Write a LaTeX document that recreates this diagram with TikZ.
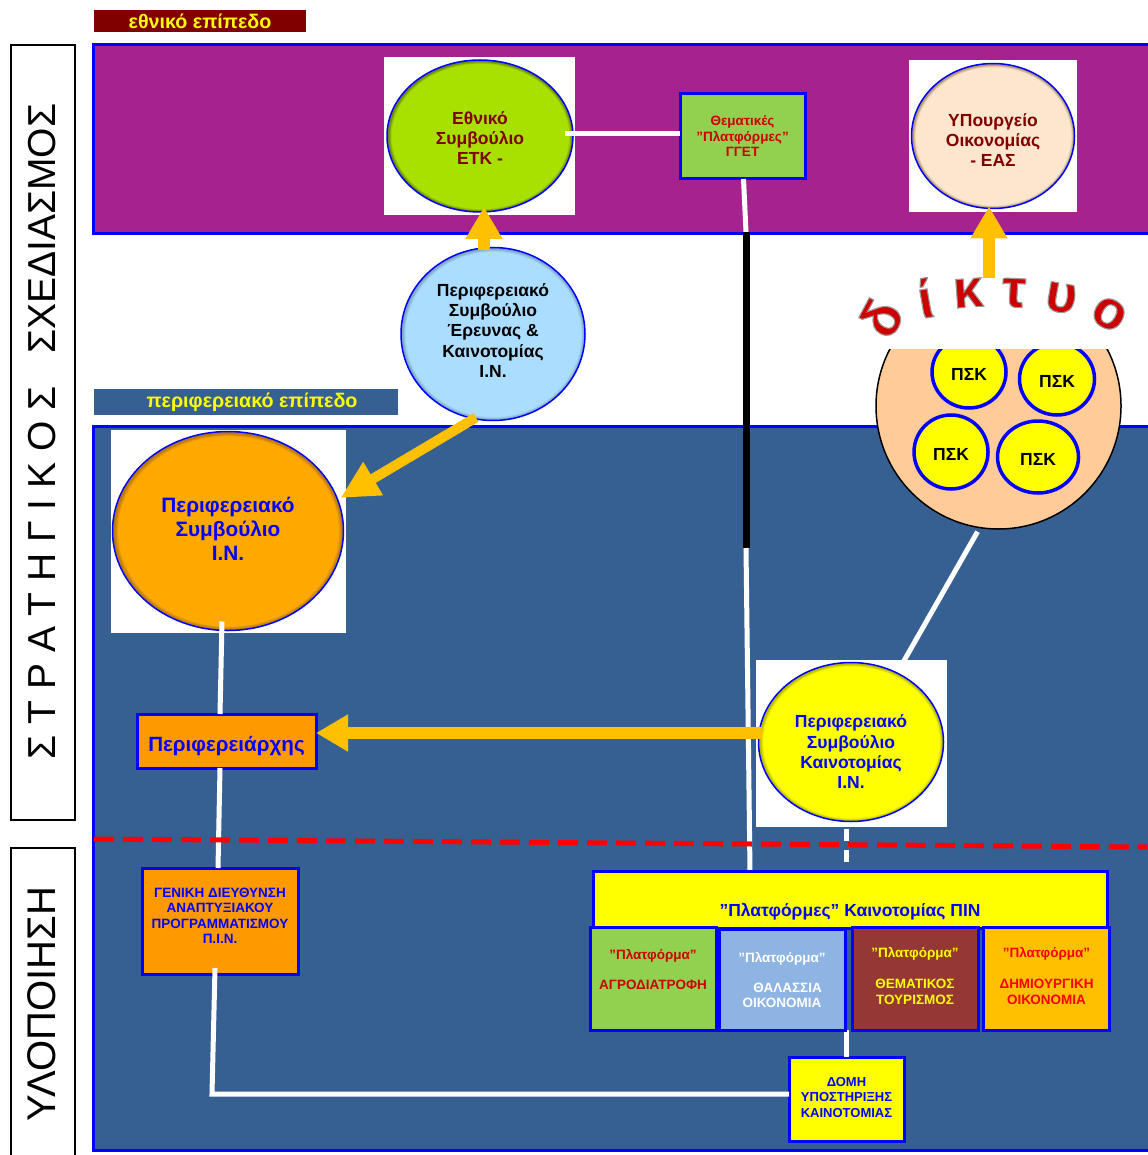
\documentclass[tikz,border=0pt]{standalone}
\usepackage{fontspec}
\setmainfont{Liberation Sans}
\usetikzlibrary{shapes.geometric,arrows.meta}

\definecolor{natpurple}{HTML}{A6228F}
\definecolor{regblue}{HTML}{376092}
\definecolor{labelred}{HTML}{800000}
\definecolor{tipamber}{HTML}{FFC000}
\definecolor{etkgreen}{HTML}{A8E000}
\definecolor{etkdark}{HTML}{6F8A10}
\definecolor{easpeach}{HTML}{FDE6CE}
\definecolor{easdark}{HTML}{B89A70}
\definecolor{erevblue}{HTML}{AADDFF}
\definecolor{erevdark}{HTML}{7FA8C8}
\definecolor{psnorange}{HTML}{FFA800}
\definecolor{psndark}{HTML}{B87A10}
\definecolor{pskyellow}{HTML}{FFFF00}
\definecolor{pskdark}{HTML}{B8B800}
\definecolor{leafgreen}{HTML}{92D050}
\definecolor{seablue}{HTML}{8EB4E3}
\definecolor{wine}{HTML}{953735}
\definecolor{boxorange}{HTML}{FF9900}
\definecolor{bigpeach}{HTML}{FFCC99}

\newcommand{\ballshading}[3]{\pgfdeclareradialshading{#1}{\pgfpointorigin}{color(0bp)=(#2); color(23.8bp)=(#2); color(24.6bp)=(#3); color(25bp)=(#3); color(50bp)=(#3)}}
\ballshading{etkball}{etkgreen}{etkdark}
\ballshading{easball}{easpeach}{easdark}
\ballshading{erevball}{erevblue}{erevdark}
\ballshading{psnball}{psnorange}{psndark}
\ballshading{pskball}{pskyellow}{pskdark}

\newcommand{\qt}{\symbol{34}}
\newcommand{\netletter}[1]{\special{pdf:code 0.62 0.6 0.6 RG 1.1 w 2 Tr}#1\special{pdf:code 0 Tr}}

\begin{document}
\begin{tikzpicture}
      [x=1pt, y=-1pt,
       ball/.style={
           ellipse,
           draw=blue, line width=1.5pt,
           shade,
           inner sep=0pt, outer sep=0pt,
           align=center,
           font=\bfseries\fontsize{17.5}{20.3}\selectfont
         },
       pbox/.style={
           rectangle,
           draw=blue, line width=3pt,
           inner sep=0pt, outer sep=0pt,
           align=center,
           font=\bfseries\fontsize{13.5}{15.5}\selectfont
         },
       psk/.style={
           ellipse,
           draw=blue, line width=3.5pt, fill=pskyellow,
           inner sep=0pt, outer sep=0pt,
           font=\bfseries\fontsize{17.5}{19}\selectfont
         },
       level/.style={
           rectangle,
           inner sep=0pt,
           font=\bfseries\fontsize{19.7}{22}\selectfont
         },
       side/.style={
           rectangle,
           draw=black, line width=1.2pt, fill=white,
           inner sep=0pt, outer sep=0pt,
           minimum width=64pt
         },
       wire/.style={draw=white, line width=5pt},
       tip/.style={draw=tipamber, line width=12pt, -{Triangle[length=32pt,width=35pt]}},
       letter/.style={
           text=red!80!black,
           inner sep=0pt,
           font=\bfseries\fontsize{54}{54}\selectfont
         },
       ]
    \useasboundingbox (0,0) rectangle (1147,1155);

    % bands
    \path [fill=natpurple, draw=blue, line width=3pt] (93,45) rectangle (1155,234);
    \path [fill=regblue, draw=blue, line width=3pt] (93,426) rectangle (1155,1150);

    \node [level, fill=labelred, text=pskyellow, minimum width=212pt, minimum height=22pt] (natlabel) at (200,21) {εθνικό επίπεδο};
    \node [level, fill=regblue, text=pskyellow, minimum width=304pt, minimum height=26pt] (reglabel) at (246,402) {\hspace{12pt}περιφερειακό επίπεδο};

    \node [side, minimum height=775pt] (strategy) at (43,432.5) {};
    \node [side, minimum height=320pt] (impl) at (43,1008) {};
    \node [rotate=90, font=\fontsize{39}{39}\selectfont] (strategytext) at (42,431.5) {Σ Τ Ρ Α Τ Η Γ Ι Κ Ο Σ\ \ \ ΣΧΕΔΙΑΣΜΟΣ};
    \node [rotate=90, font=\fontsize{40}{40}\selectfont] (impltext) at (42,1004) {ΥΛΟΠΟΙΗΣΗ};

    % white squares behind the pictures
    \fill [white] (384,57) rectangle (575,215);
    \fill [white] (909,60) rectangle (1077,212);
    \fill [white] (111,430) rectangle (346,633);
    \fill [white] (756,660) rectangle (947,827);

    % nodes
    \node [ball, shading=etkball, text=labelred, minimum width=186pt, minimum height=152pt] (etk) at (480,136) {\rule{0pt}{17pt}Εθνικό\\Συμβούλιο\\ΕΤΚ -};
    \node [ball, shading=easball, text=labelred, minimum width=163pt, minimum height=145pt] (eas) at (993,136) {\rule{0pt}{20.8pt}ΥΠουργείο\\Οικονομίας\\- ΕΑΣ};
    \node [ball, shading=erevball, text=black, minimum width=184pt, minimum height=173pt] (rerev) at (493,334) {Περιφερειακό\\Συμβούλιο\\Έρευνας \&\\Καινοτομίας\\Ι.Ν.\\[-13.3pt]};
    \node [ball, shading=psnball, text=blue, minimum width=231pt, minimum height=199pt, font=\bfseries\fontsize{20.8}{24}\selectfont] (rsn) at (228,531) {Περιφερειακό\\Συμβούλιο\\Ι.Ν.\\[-19pt]};
    \node [ball, shading=pskball, text=blue, minimum width=185pt, minimum height=159pt] (rinn) at (851,742) {\rule{0pt}{32.8pt}Περιφερειακό\\Συμβούλιο\\Καινοτομίας\\Ι.Ν.};

    \node [pbox, fill=leafgreen, text=red!80!black, minimum width=125pt, minimum height=85pt] (gget) at (742.5,136.5) {Θεματικές\\\qt Πλατφόρμες\qt\\ΓΓΕΤ};
    \node [pbox, fill=boxorange, text=blue, minimum width=179pt, minimum height=54pt, font=\bfseries\fontsize{20.6}{24}\selectfont] (governor) at (226.5,741) {\rule{0pt}{25pt}Περιφερειάρχης};
    \node [pbox, fill=boxorange, text=blue, minimum width=156pt, minimum height=106pt] (gd) at (220,921) {ΓΕΝΙΚΗ ΔΙΕΥΘΥΝΣΗ\\ΑΝΑΠΤΥΞΙΑΚΟΥ\\ΠΡΟΓΡΑΜΜΑΤΙΣΜΟΥ\\Π.Ι.Ν.\\[-5.5pt]};
    \node [pbox, fill=pskyellow, text=blue, minimum width=115pt, minimum height=84pt, font=\bfseries\fontsize{13}{15.5}\selectfont] (support) at (846.5,1099) {ΔΟΜΗ\\ΥΠΟΣΤΗΡΙΞΗΣ\\ΚΑΙΝΟΤΟΜΙΑΣ\\[-11.5pt]};

    % connectors
    \draw [wire] ([xshift=-8pt,yshift=2pt]etk.east) -- (gget.west |- 0,134);
    \coordinate (blacktop) at (746,232);
    \coordinate (blackend) at (746,548);
    \draw [wire] (gget.south) ++(1,0) -- (blacktop);
    \draw [draw=black, line width=7pt] (blacktop) -- (blackend);
    \coordinate (platformtop) at (750,872);
    \draw [wire] (blackend) -- (platformtop);
    \draw [wire] ([yshift=9pt]rsn.south) ++(-6,0) -- (governor.north -| 220,0);
    \draw [wire] (governor.south -| 220,0) -- (gd.north -| 218,0);
    \coordinate (gdcorner) at (212,1094);
    \draw [wire] ([yshift=6pt]gd.south) ++(-5,0) -- (gdcorner) -- (support.west |- gdcorner);
    \draw [wire, dash pattern=on 12pt off 9pt] (rinn.south) ++(-5,7) -- (846,870);
    \draw [wire] (846,1030) -- (support.north -| 846,0);

    % red border between the two levels
    \coordinate (redleft) at (94,839);
    \coordinate (redright) at (1147,847);
    \draw [draw=red, line width=5pt, dash pattern=on 20pt off 9pt] (redleft) -- (redright);

    % platforms
    \node [pbox, fill=pskyellow, minimum width=514pt, minimum height=57pt] (platforms) at (850,899.5) {};
    \node [inner sep=0pt, text=blue, font=\bfseries\fontsize{17.5}{20}\selectfont] (platformstext) at (850,912) {\qt Πλατφόρμες\qt\ Καινοτομίας ΠΙΝ};
    \node [pbox, fill=leafgreen, text=red!80!black, minimum width=126pt, minimum height=103pt] (agro) at (653,978.5) {\qt Πλατφόρμα\qt\\[14.5pt]ΑΓΡΟΔΙΑΤΡΟΦΗ\\[3.5pt]};
    \node [pbox, fill=seablue, text=white, minimum width=126pt, minimum height=101pt] (sea) at (782,980) {\qt Πλατφόρμα\qt\\[14.5pt]\ \ \ ΘΑΛΑΣΣΙΑ\\ΟΙΚΟΝΟΜΙΑ};
    \node [pbox, fill=wine, text=pskyellow, minimum width=126pt, minimum height=103pt] (tourism) at (915,978.5) {\qt Πλατφόρμα\qt\\[15.5pt]ΘΕΜΑΤΙΚΟΣ\\ΤΟΥΡΙΣΜΟΣ\\[-10.5pt]};
    \node [pbox, fill=tipamber, text=red, minimum width=126pt, minimum height=103pt] (creative) at (1046.5,978.5) {\qt Πλατφόρμα\qt\\[15.5pt]ΔΗΜΙΟΥΡΓΙΚΗ\\ΟΙΚΟΝΟΜΙΑ\\[-10.5pt]};

    % network
    \node [ellipse, draw=black, line width=1.5pt, fill=bigpeach, inner sep=0pt, minimum width=245pt, minimum height=246pt] (network) at (998.5,406) {};
    \draw [wire] ([xshift=-21pt,yshift=-2pt]network.south) -- (rinn.north -| 903,0);
    \node [psk, minimum width=74pt, minimum height=72pt] (psk1) at (969,372) {\rule{0pt}{16.6pt}ΠΣΚ};
    \node [psk, minimum width=75pt, minimum height=72pt] (psk2) at (1057,379) {\rule{0pt}{16.6pt}ΠΣΚ};
    \node [psk, minimum width=74pt, minimum height=74pt] (psk3) at (951,452) {\rule{0pt}{17.6pt}ΠΣΚ};
    \node [psk, minimum width=81pt, minimum height=72pt] (psk4) at (1038,457) {\rule{0pt}{16.6pt}ΠΣΚ};
    \fill [white] (850,262) rectangle (1140,349);

    \node [letter, rotate=62] (net1) at (881,318) {\netletter{δ}};
    \node [letter, rotate=10] (net2) at (925,298) {\netletter{ί}};
    \node [letter, rotate=4] (net3) at (968,293) {\netletter{κ}};
    \node [letter, rotate=-3] (net4) at (1014,293) {\netletter{τ}};
    \node [letter, rotate=-10] (net5) at (1061,298) {\netletter{υ}};
    \node [letter, rotate=-30] (net6) at (1109,314) {\netletter{ο}};

    % arrows
    \coordinate (netout) at (989,278);
    \coordinate (erevout) at (484,250);
    \draw [tip] (erevout) -- ([yshift=5pt]etk.south -| erevout);
    \draw [tip] (netout) -- ([yshift=2pt]eas.south -| netout);
    \draw [tip, line width=10pt, -{Triangle[length=38pt,width=36pt]}] (rerev.south) ++(-17,-3) -- ([xshift=-3pt,yshift=33pt]rsn.east);
    \draw [tip] (rinn.west) ++(3,-9) -- (governor.east |- 0,733);
\end{tikzpicture}
\end{document}
